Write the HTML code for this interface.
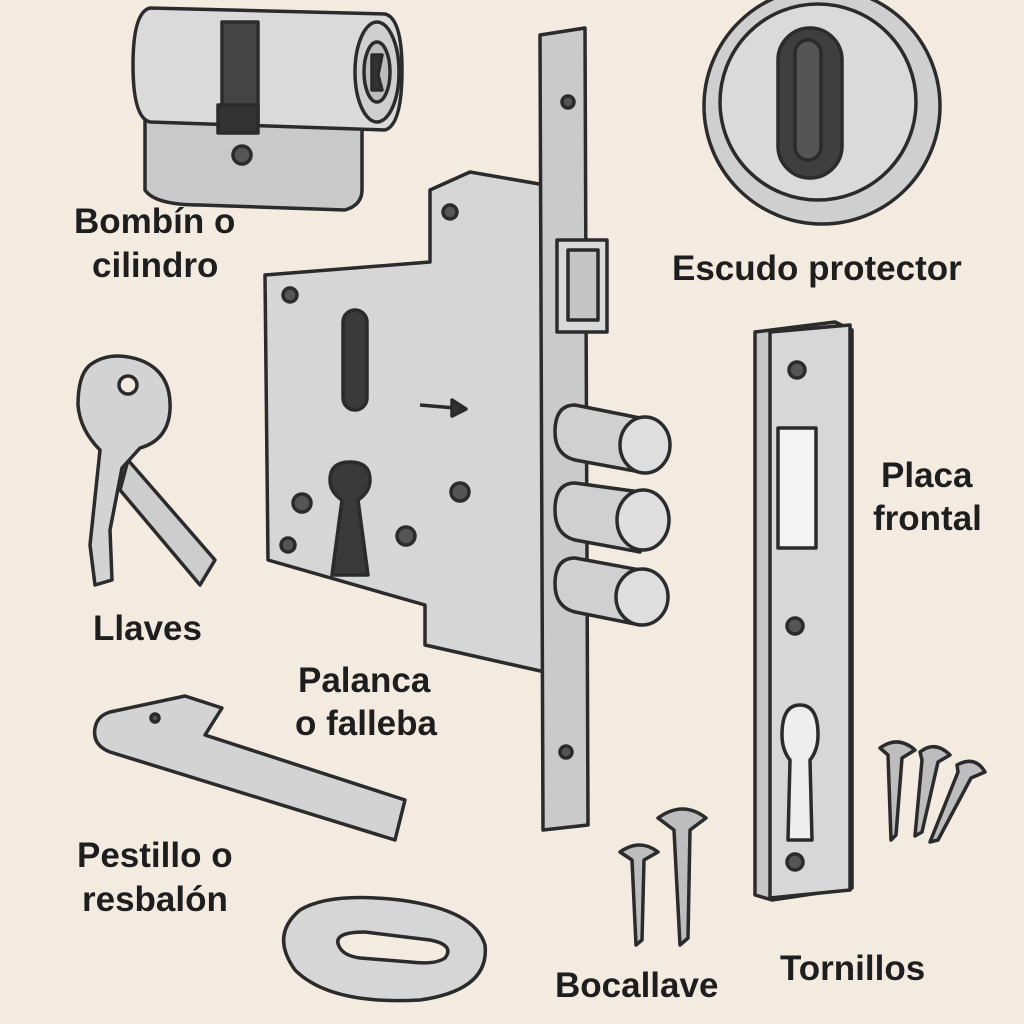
<!DOCTYPE html>
<html><head><meta charset="utf-8"><style>
html,body{margin:0;padding:0;background:#f3ebe0;}
svg{display:block}
text{font-family:"Liberation Sans",sans-serif;font-size:35px;fill:#1e1e1e;font-weight:bold}
</style></head><body>
<svg width="1024" height="1024" viewBox="0 0 1024 1024" xmlns="http://www.w3.org/2000/svg">
<rect width="1024" height="1024" fill="#f3ebe0"/>
<g stroke="#2b2b2b" stroke-width="3.5" stroke-linejoin="round" fill="#d3d3d3">
<!-- cylinder -->
<path d="M145,100 L145,190 Q155,205 200,205 L345,210 Q362,205 362,190 L362,100 Z" fill="#c9c9c9"/>
<path d="M150,8 Q133,12 133,65 Q133,118 150,122 L385,130 Q402,125 402,70 Q402,18 385,14 Z" fill="#dadada"/>
<ellipse cx="377" cy="72" rx="22" ry="50" fill="#cfcfcf"/>
<ellipse cx="377" cy="72" rx="13" ry="30" fill="#bdbdbd"/>
<path d="M372,55 L382,55 L378,75 L382,90 L372,90 Z" fill="#333"/>
<rect x="222" y="22" width="36" height="100" fill="#444"/>
<rect x="218" y="105" width="40" height="28" fill="#333"/>
<circle cx="242" cy="155" r="9" fill="#555"/>
<!-- escudo -->
<circle cx="822" cy="106" r="118" fill="#cfcfcf"/>
<circle cx="818" cy="102" r="98" fill="#dadada"/>
<rect x="778" y="28" width="64" height="150" rx="32" fill="#3f3f3f"/>
<rect x="795" y="40" width="26" height="120" rx="13" fill="#555"/>
<!-- lock case -->
<path d="M265,275 L430,262 L430,190 L470,172 L545,185 L545,672 L425,645 L425,605 L268,560 Z" fill="#d6d6d6"/>
<rect x="343" y="310" width="24" height="100" rx="12" fill="#3a3a3a"/>
<path d="M330,480 Q330,462 350,462 Q370,462 370,480 Q370,492 358,500 L368,575 L332,575 L342,500 Q330,492 330,480 Z" fill="#3a3a3a"/>
<circle cx="290" cy="295" r="7" fill="#555"/><circle cx="450" cy="212" r="7" fill="#555"/>
<circle cx="302" cy="503" r="9" fill="#555"/><circle cx="460" cy="492" r="9" fill="#555"/>
<circle cx="406" cy="536" r="9" fill="#555"/><circle cx="288" cy="545" r="7" fill="#555"/>
<path d="M420,405 L455,408" fill="none"/><path d="M452,400 L466,409 L452,416 Z" fill="#333"/>
<!-- faceplate -->
<path d="M540,35 L585,28 L588,825 L543,830 Z" fill="#cacaca"/>
<circle cx="568" cy="102" r="6" fill="#555"/><circle cx="566" cy="752" r="6" fill="#555"/>
<rect x="557" y="240" width="50" height="92" fill="#d9d9d9"/>
<rect x="568" y="250" width="30" height="70" fill="#c5c5c5"/>
<!-- bolts -->
<g>
<path d="M575,405 L640,418 L640,472 L575,460 Q555,455 555,432 Q555,405 575,405 Z" fill="#d0d0d0"/>
<ellipse cx="645" cy="445" rx="25" ry="28" fill="#dedede"/>
<path d="M575,483 L640,492 L640,552 L575,540 Q555,535 555,510 Q555,483 575,483 Z" fill="#d0d0d0"/>
<ellipse cx="643" cy="520" rx="26" ry="30" fill="#dedede"/>
<path d="M575,558 L640,570 L640,625 L575,612 Q555,607 555,584 Q555,558 575,558 Z" fill="#d0d0d0"/>
<ellipse cx="642" cy="597" rx="26" ry="28" fill="#dedede"/>
</g>
<!-- front plate -->
<path d="M755,332 L835,322 L852,330 L852,888 L772,900 L755,895 Z" fill="#c6c6c6"/>
<path d="M770,332 L850,325 L850,890 L770,898 Z" fill="#d7d7d7"/>
<circle cx="797" cy="370" r="8" fill="#555"/><circle cx="795" cy="626" r="8" fill="#555"/><circle cx="795" cy="862" r="8" fill="#555"/>
<rect x="778" y="428" width="38" height="120" fill="#f3f3f3"/>
<path d="M782,735 Q782,705 800,705 Q818,705 818,735 Q818,750 810,760 L812,840 L788,840 L790,760 Q782,750 782,735 Z" fill="#eee"/>
<!-- keys -->
<path d="M128,460 L215,560 L200,585 L120,490 Z" fill="#cdcdcd"/>
<path d="M90,365 Q110,350 140,360 Q172,372 170,410 Q168,440 140,448 L122,468 L110,530 L112,580 L95,585 L90,545 L100,450 Q80,430 78,405 Q78,375 90,365 Z" fill="#d3d3d3"/>
<circle cx="128" cy="385" r="9" fill="#f3ebe0"/>
<!-- lever -->
<path d="M110,712 L185,696 L222,708 L205,735 L405,800 L395,840 L110,752 Q92,745 95,728 Q97,716 110,712 Z" fill="#d3d3d3"/>
<circle cx="155" cy="718" r="4" fill="#555"/>
<!-- bocallave -->
<path d="M300,910 Q330,892 400,900 Q475,910 485,945 Q490,990 420,1000 Q330,1005 295,970 Q270,935 300,910 Z" fill="#d6d6d6"/>
<path d="M340,948 Q330,932 365,932 L430,940 Q455,945 445,958 Q435,965 410,962 L360,958 Q345,956 340,948 Z" fill="#f3ebe0"/>
<!-- screws -->
<g fill="#bdbdbd">
<path d="M620,852 Q640,838 658,852 L644,860 L642,940 L636,945 L632,860 Z"/>
<path d="M658,818 Q683,800 706,818 L690,830 L688,938 L680,945 L674,830 Z"/>
<path d="M880,748 Q898,735 915,750 L902,758 L896,835 L891,840 L888,755 Z"/>
<path d="M920,752 Q935,740 950,755 L938,762 L922,832 L915,836 L922,760 Z"/>
<path d="M957,765 Q975,755 985,772 L971,778 L938,840 L930,842 L958,772 Z"/>
</g>
</g>
<text x="74" y="233">Bombín o</text>
<text x="92" y="277">cilindro</text>
<text x="672" y="280">Escudo protector</text>
<text x="93" y="640">Llaves</text>
<text x="881" y="487">Placa</text>
<text x="873" y="530">frontal</text>
<text x="298" y="692">Palanca</text>
<text x="295" y="735">o falleba</text>
<text x="77" y="867">Pestillo o</text>
<text x="82" y="911">resbalón</text>
<text x="555" y="997">Bocallave</text>
<text x="780" y="980">Tornillos</text>
</svg>
</body></html>
